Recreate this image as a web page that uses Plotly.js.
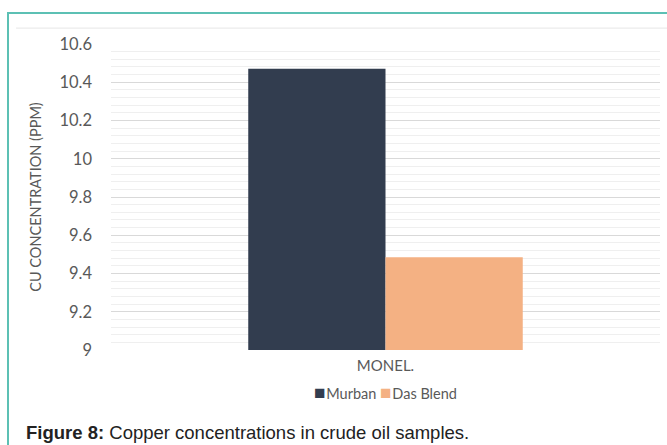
<!DOCTYPE html>
<html>
<head>
<meta charset="utf-8">
<script src="https://cdn.plot.ly/plotly-3.0.1.min.js"></script>
<style>
html,body{margin:0;padding:0;background:#fff;}
#wrap{position:relative;width:667px;height:445px;overflow:hidden;}
#chart{position:absolute;left:0;top:0;width:667px;height:445px;}
#frame{position:absolute;left:7px;top:12px;width:700px;height:500px;border:2px solid #5cc0b4;box-sizing:border-box;pointer-events:none;}
</style>
</head>
<body>
<div id="wrap"><div id="chart"></div><div id="frame"></div></div>
<script>
const categories = ["MONEL."];
const seriesNames = ["Murban", "Das Blend"];
const murban = [10.47];
const dasBlend = [9.485];
const yTitle = "CU CONCENTRATION (PPM)";
const caption = "<b>Figure 8:</b> Copper concentrations in crude oil samples.";

const colors = ["#323d4f", "#f4b183"];
const font = "Lato, 'Open Sans', sans-serif";

const traces = [
  {type: "bar", name: seriesNames[0], x: categories, y: murban, marker: {color: colors[0]}, showlegend: false},
  {type: "bar", name: seriesNames[1], x: categories, y: dasBlend, marker: {color: colors[1]}, showlegend: false}
];

const legendText = seriesNames.map((n, i) =>
  "<span style='color:" + colors[i] + ";font-size:19px'>■</span><span style='font-size:3px'> </span>" + n).join(" ");

const layout = {
  width: 667, height: 445,
  margin: {l: 111, r: 7, t: 44, b: 95},
  paper_bgcolor: "#fff", plot_bgcolor: "#fff",
  barmode: "group", bargap: 0.5, bargroupgap: 0,
  font: {family: font, color: "#595959", size: 13},
  showlegend: false,
  xaxis: {showgrid: false, zeroline: false, showline: false, ticks: "",
          tickfont: {family: font, size: 15, color: "#595959"}, ticklabelstandoff: 5},
  yaxis: {range: [9, 10.6], dtick: 0.2, tick0: 9, showgrid: true, gridcolor: "#d9d9d9", gridwidth: 1,
          zeroline: false, showline: false, ticks: "", ticklabelstandoff: 18,
          tickfont: {family: font, size: 16.5, color: "#595959"},
          minor: {dtick: 0.04, showgrid: true, gridcolor: "#efefef", gridwidth: 1},
          title: {text: yTitle, standoff: 14, font: {family: font, size: 14.5, color: "#595959"}}},
  shapes: [
    {type: "line", xref: "paper", yref: "paper", x0: -0.173, x1: 1.02, y0: 1.052, y1: 1.052,
     line: {color: "#e6e6e6", width: 1}}
  ],
  annotations: [
    {text: legendText, xref: "paper", yref: "paper", x: 0.5, y: -0.134, xanchor: "center", yanchor: "middle",
     showarrow: false, font: {family: font, size: 14.5, color: "#595959"}},
    {text: caption, xref: "paper", yref: "paper", x: -0.158, y: -0.268, xanchor: "left", yanchor: "middle",
     showarrow: false, font: {family: "'Liberation Sans', Arial, sans-serif", size: 18.5, color: "#222"}}
  ]
};

Plotly.newPlot("chart", traces, layout, {displayModeBar: false, staticPlot: true});
</script>
</body>
</html>
